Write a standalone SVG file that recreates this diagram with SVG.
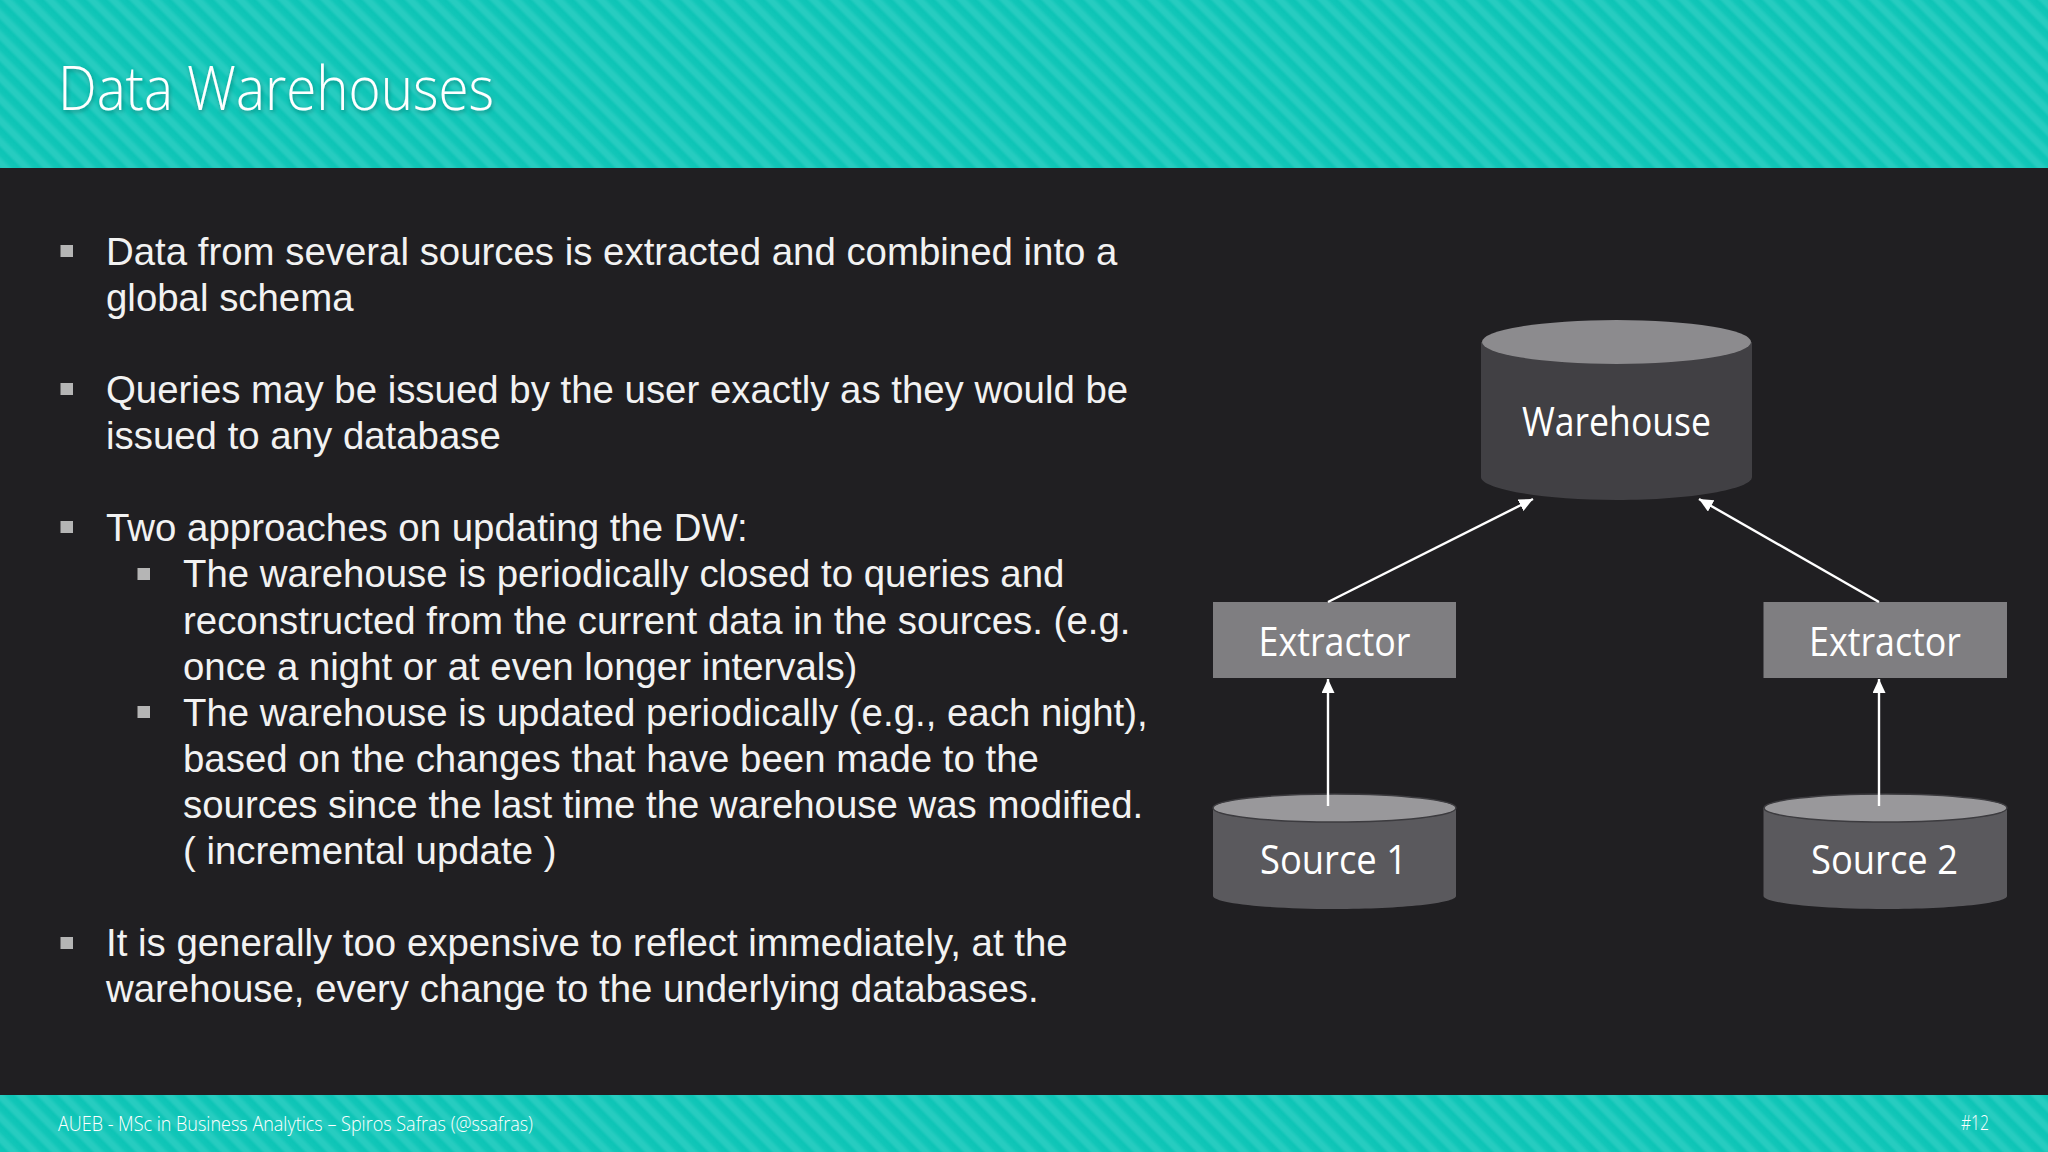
<svg xmlns="http://www.w3.org/2000/svg" width="2048" height="1152" viewBox="0 0 2048 1152">
<style>
.body{font-family:"Liberation Sans",Arial,sans-serif;font-size:38.4px;fill:#f2f2f2}
.seg{font-family:"Open Sans","Noto Sans",sans-serif;font-weight:300;fill:#fff}
.lab{font-family:"Open Sans","Noto Sans",sans-serif;font-size:40px;fill:#fff}
.bul{fill:#b5b5b5}
.conn{stroke:#fff;stroke-width:2.4;fill:none;marker-end:url(#ah)}
.rim{stroke:#3c3b3f;stroke-width:1.5}
</style>
<defs>
<linearGradient id="sg" x1="0" y1="0" x2="0" y2="1">
<stop offset="0" stop-color="#0dc4b6"/><stop offset=".3" stop-color="#12c6b8"/><stop offset=".55" stop-color="#27ccc0"/><stop offset=".8" stop-color="#27ccc0"/><stop offset="1" stop-color="#0dc4b6"/>
</linearGradient>
<pattern id="st" width="15" height="15" patternUnits="userSpaceOnUse" patternTransform="rotate(45)">
<rect width="15" height="15" fill="url(#sg)"/>
</pattern>
<marker id="ah" markerUnits="userSpaceOnUse" markerWidth="14" markerHeight="14" refX="14" refY="6.5" orient="auto"><path d="M0 0L14 6.5L0 13Z" fill="#fff"/></marker>
<filter id="sh" x="-5%" y="-20%" width="110%" height="140%"><feDropShadow dx="1" dy="2" stdDeviation="2" flood-color="#000" flood-opacity=".3"/></filter>
</defs>
<rect width="2048" height="1152" fill="#201f22"/>
<rect width="2048" height="168" fill="url(#st)"/>
<rect y="1095" width="2048" height="57" fill="url(#st)"/>
<text x="58" y="110" class="seg" font-size="60" textLength="436" lengthAdjust="spacingAndGlyphs" filter="url(#sh)">Data Warehouses</text>
<text x="58" y="1131" class="seg" font-size="20" textLength="475" lengthAdjust="spacingAndGlyphs">AUEB - MSc in Business Analytics – Spiros Safras (@ssafras)</text>
<text x="1961" y="1130" class="seg" font-size="20" textLength="28" lengthAdjust="spacingAndGlyphs">#12</text>
<g id="bullets">
<rect class="bul" x="60.500" y="245" width="12.500" height="12"/>
<rect class="bul" x="60.500" y="383" width="12.500" height="12"/>
<rect class="bul" x="60.500" y="521" width="12.500" height="12"/>
<rect class="bul" x="137.500" y="568" width="12.500" height="12"/>
<rect class="bul" x="137.500" y="706" width="12.500" height="12"/>
<rect class="bul" x="60.500" y="937" width="12.500" height="12"/>
</g>
<g id="body-text" class="body">
<text x="106" y="265">Data from several sources is extracted and combined into a</text>
<text x="106" y="311">global schema</text>
<text x="106" y="403">Queries may be issued by the user exactly as they would be</text>
<text x="106" y="449">issued to any database</text>
<text x="106" y="541">Two approaches on updating the DW:</text>
<text x="183" y="587">The warehouse is periodically closed to queries and</text>
<text x="183" y="634">reconstructed from the current data in the sources. (e.g.</text>
<text x="183" y="680">once a night or at even longer intervals)</text>
<text x="183" y="726">The warehouse is updated periodically (e.g., each night),</text>
<text x="183" y="772">based on the changes that have been made to the</text>
<text x="183" y="818">sources since the last time the warehouse was modified.</text>
<text x="183" y="864">( incremental update )</text>
<text x="106" y="956">It is generally too expensive to reflect immediately, at the</text>
<text x="106" y="1002">warehouse, every change to the underlying databases.</text>
</g>
<g id="warehouse">
<path d="M1481 342V477C1481 489 1542 500 1616.500 500S1752 489 1752 477V342Z" fill="#414044"/>
<ellipse cx="1616.500" cy="342" rx="134.500" ry="22" fill="#8c8b8e"/>
<text class="lab" x="1522" y="436" textLength="189" lengthAdjust="spacingAndGlyphs">Warehouse</text>
</g>
<g id="extractor-1"><rect x="1213" y="602" width="243" height="76" fill="#7f7e81"/><text class="lab" x="1258.500" y="656" textLength="152" lengthAdjust="spacingAndGlyphs">Extractor</text></g>
<g id="extractor-2"><rect x="1763.500" y="602" width="243.500" height="76" fill="#7f7e81"/><text class="lab" x="1809" y="656" textLength="152" lengthAdjust="spacingAndGlyphs">Extractor</text></g>
<g id="source-1">
<path d="M1213 808V896C1213 903 1267 909 1334.500 909S1456 903 1456 896V808Z" fill="#5a595d"/>
<ellipse class="rim" cx="1334.500" cy="808" rx="121.500" ry="14" fill="#99989b"/>
<text class="lab" x="1260" y="874" textLength="147" lengthAdjust="spacingAndGlyphs">Source 1</text>
</g>
<g id="source-2">
<path d="M1763.500 808V896C1763.500 903 1818 909 1885.500 909S2007 903 2007 896V808Z" fill="#5a595d"/>
<ellipse class="rim" cx="1885.500" cy="808" rx="121.500" ry="14" fill="#99989b"/>
<text class="lab" x="1811" y="874" textLength="147" lengthAdjust="spacingAndGlyphs">Source 2</text>
</g>
<g id="connectors">
<line class="conn" x1="1328" y1="602" x2="1533" y2="499"/>
<line class="conn" x1="1879" y1="602" x2="1699" y2="499"/>
<line class="conn" x1="1328" y1="806" x2="1328" y2="679"/>
<line class="conn" x1="1879" y1="806" x2="1879" y2="679"/>
</g>
</svg>
